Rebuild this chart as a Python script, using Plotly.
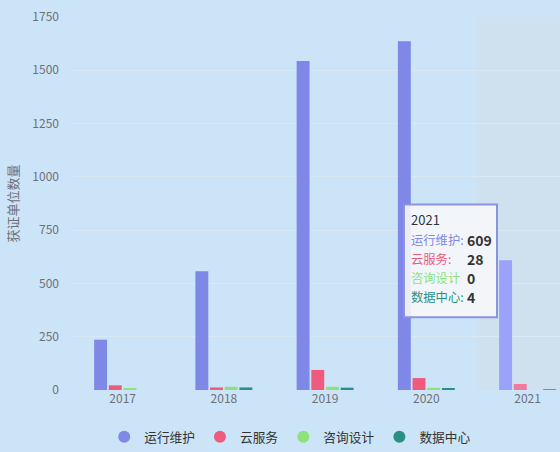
import plotly.graph_objects as go

years = ["2017", "2018", "2019", "2020", "2021"]
series_names = ["运行维护", "云服务", "咨询设计", "数据中心"]
ops = [236, 557, 1543, 1636, 609]
cloud = [22, 12, 94, 56, 28]
consult = [5, 15, 15, 10, 0]
datacenter = [0, 12, 11, 6, 4]
colors = ["#7f87e7", "#ef5a7e", "#8de27c", "#2b8f86"]
hover_colors = ["#9ba2fb", "#f3789a", "#a6ec98", "#4aa8a0"]
hover_index = 4
y_ticks = [0, 250, 500, 750, 1000, 1250, 1500, 1750]
tooltip_labels = ["运行维护:", "云服务:", "咨询设计", "数据中心:"]

all_values = [ops, cloud, consult, datacenter]
FONT = "Noto Sans CJK SC"

fig = go.Figure()

# hover shadow on the selected category
fig.add_shape(type="rect", xref="x", yref="paper",
              x0=hover_index - 0.5, x1=hover_index + 0.5, y0=0, y1=1,
              fillcolor="rgba(215,215,220,0.3)", line_width=0, layer="below")

for name, vals, c, hc in zip(series_names, all_values, colors, hover_colors):
    mcols = [hc if i == hover_index else c for i in range(len(vals))]
    fig.add_trace(go.Bar(x=years, y=vals, name=name, marker_color=mcols,
                         marker_line_width=0, showlegend=False, hoverinfo="skip"))
    fig.add_trace(go.Scatter(x=[None], y=[None], mode="markers", name=name,
                             marker=dict(color=c, size=12, symbol="circle")))

# tooltip box
fig.add_shape(type="rect", xref="paper", yref="paper",
              x0=0.6803, x1=0.8709, y0=0.1952, y1=0.4973,
              fillcolor="rgba(246,247,250,0.9)", line=dict(color="#8d92dc", width=2),
              layer="above")
line_y = [0.4572, 0.4011, 0.3503, 0.2995, 0.2487]
LX = 0.6905
fig.add_annotation(xref="paper", yref="paper", x=LX, y=line_y[0],
                   xanchor="left", yanchor="middle", text=years[hover_index],
                   showarrow=False, font=dict(family=FONT, size=13, color="#333"))
for k, (lab, vals, c) in enumerate(zip(tooltip_labels, all_values, colors)):
    fig.add_annotation(xref="paper", yref="paper", x=LX, y=line_y[k + 1],
                       xanchor="left", yanchor="middle", text=lab,
                       showarrow=False, font=dict(family=FONT, size=12.3, color=c))
    fig.add_annotation(xref="paper", yref="paper", x=0.806, y=line_y[k + 1],
                       xanchor="left", yanchor="middle",
                       text=f"<b>{vals[hover_index]}</b>",
                       showarrow=False, font=dict(family=FONT, size=14, color="#333"))

fig.update_layout(
    width=560, height=452,
    margin=dict(l=72, r=0, t=17, b=61),
    paper_bgcolor="#cce4f7", plot_bgcolor="#cce4f7",
    barmode="group", bargap=0.42, bargroupgap=0.12,
    font=dict(family=FONT, color="#6e7079", size=12),
    hovermode=False,
    legend=dict(orientation="h", x=0.066, xanchor="left", y=-0.126, yanchor="middle",
                font=dict(size=12.7, color="#333"), itemsizing="constant",
                bgcolor="rgba(0,0,0,0)"),
    xaxis=dict(range=[-0.5, 4.32], showgrid=False, showline=False,
               ticks="", tickfont=dict(size=12, color="#6e7079")),
    yaxis=dict(range=[0, 1750], tickvals=y_ticks, showgrid=True,
               gridcolor="#d9e8f5", gridwidth=1, zeroline=False,
               ticklabelstandoff=12,
               title=dict(text="获证单位数量", font=dict(size=13, color="#6e7079"), standoff=10),
               tickfont=dict(size=12, color="#6e7079"), ticks=""),
)

fig.write_html("out.html", config={"displayModeBar": False},
               post_script="document.body.style.margin='0';")
